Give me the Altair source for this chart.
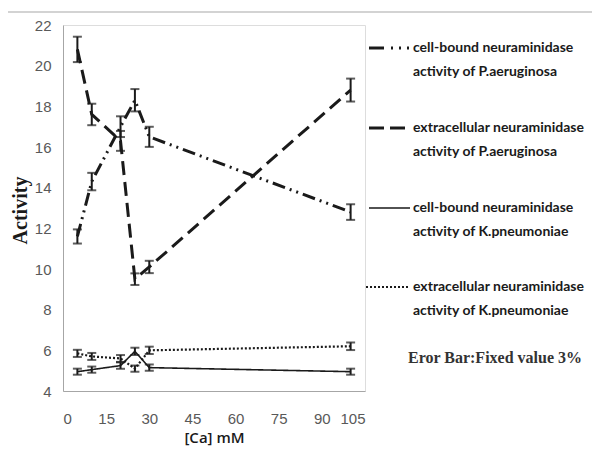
import altair as alt
import pandas as pd

ca = [5, 10, 20, 25, 30, 100]
cb_pa = [11.6, 14.3, 17.0, 18.3, 16.5, 12.8]
ex_pa = [20.8, 17.6, 16.3, 9.5, 10.1, 18.8]
cb_kp = [4.95, 5.05, 5.25, 5.95, 5.15, 4.95]
ex_kp = [5.85, 5.7, 5.6, 5.1, 6.0, 6.2]

series_names = ["cbpa", "expa", "cbkp", "exkp"]
series_vals = [cb_pa, ex_pa, cb_kp, ex_kp]
dashes = [[13, 5, 2, 5, 2, 5], [14, 7], [1, 0], [2, 2]]
widths = [3, 3, 1.6, 2.2]

legend_lines = [
    ["cell-bound neuraminidase", "activity of P.aeruginosa"],
    ["extracellular neuraminidase", "activity of P.aeruginosa"],
    ["cell-bound neuraminidase", "activity of K.pneumoniae"],
    ["extracellular neuraminidase", "activity of K.pneumoniae"],
]
legend_y = [23, 103, 183, 262]
note = "Eror Bar:Fixed value 3%"

rows = []
for name, vals in zip(series_names, series_vals):
    for x, v in zip(ca, vals):
        rows.append({"series": name, "ca": x, "v": v, "lo": v * 0.97, "hi": v * 1.03})
df = pd.DataFrame(rows)

W, H = 302, 366
xs = alt.Scale(domain=[0, 105], nice=False)
ys = alt.Scale(domain=[4, 22], nice=False)
ink = "#1a1a1a"
one = pd.DataFrame({"a": [0]})

layers = []

# outer frame (top and left edges visible in the reference)
layers.append(alt.Chart(one).mark_rule(color="#c4c4c4", strokeWidth=1.5).encode(
    x=alt.value(-58), x2=alt.value(600), y=alt.value(-13)))
layers.append(alt.Chart(one).mark_rule(color="#c4c4c4", strokeWidth=1.5).encode(
    x=alt.value(-58), y=alt.value(-13), y2=alt.value(460)))

for i, name in enumerate(series_names):
    d = df[df.series == name]
    base = alt.Chart(d)
    line = base.mark_line(color=ink, strokeWidth=widths[i], strokeDash=dashes[i]).encode(
        x=alt.X("ca:Q", scale=xs, axis=alt.Axis(
            values=[0, 15, 30, 45, 60, 75, 90, 105], title="[Ca] mM", grid=False,
            ticks=False, domainColor="#a6a6a6", labelFont="Liberation Sans", labelFontSize=15,
            labelColor="#595959", labelPadding=20, titleFont="Open Sans", titleFontSize=15,
            titleFontWeight=600, titleColor=ink, titlePadding=4)),
        y=alt.Y("v:Q", scale=ys, axis=alt.Axis(
            values=[4, 6, 8, 10, 12, 14, 16, 18, 20, 22], title="Activity", grid=False,
            ticks=False, domainColor="#a6a6a6", labelFont="Liberation Sans", labelFontSize=15,
            labelColor="#595959", labelPadding=12, titleFont="Liberation Serif", titleFontSize=20,
            titleFontWeight="bold", titleColor=ink, titlePadding=4, titleY=185)),
    )
    rule = base.mark_rule(color=ink, strokeWidth=2).encode(x="ca:Q", y="lo:Q", y2="hi:Q")
    cap_lo = base.mark_tick(color=ink, orient="horizontal", size=9, thickness=2).encode(x="ca:Q", y="lo:Q")
    cap_hi = base.mark_tick(color=ink, orient="horizontal", size=9, thickness=2).encode(x="ca:Q", y="hi:Q")
    layers += [line, rule, cap_lo, cap_hi]

# legend samples
lx0, lx1, tx = 306, 347, 350
for i in range(4):
    y = legend_y[i]
    if i == 0:
        layers.append(alt.Chart(one).mark_rule(color=ink, strokeWidth=3).encode(
            x=alt.value(lx0), x2=alt.value(lx0 + 15), y=alt.value(y)))
        layers.append(alt.Chart(one).mark_rule(color=ink, strokeWidth=3, strokeDash=[2, 6]).encode(
            x=alt.value(lx0 + 22), x2=alt.value(lx1), y=alt.value(y)))
    elif i == 1:
        layers.append(alt.Chart(one).mark_rule(color=ink, strokeWidth=3, strokeDash=[15, 6]).encode(
            x=alt.value(lx0), x2=alt.value(lx1), y=alt.value(y)))
    else:
        layers.append(alt.Chart(one).mark_rule(color=ink, strokeWidth=widths[i], strokeDash=dashes[i]).encode(
            x=alt.value(lx0 - (3 if i == 3 else 0)), x2=alt.value(lx1), y=alt.value(y)))
    for j, t in enumerate(legend_lines[i]):
        layers.append(alt.Chart(pd.DataFrame({"t": [t]})).mark_text(
            align="left", baseline="middle", font="Lato", fontSize=14, fontWeight="bold", color=ink
        ).encode(x=alt.value(tx), y=alt.value(y + j * 24), text="t:N"))

layers.append(alt.Chart(pd.DataFrame({"t": [note]})).mark_text(
    align="center", baseline="middle", font="Liberation Serif", fontSize=16, fontWeight="bold", color="#333333"
).encode(x=alt.value(432), y=alt.value(333), text="t:N"))

chart = alt.layer(*layers).properties(
    width=W, height=H, autosize=alt.AutoSizeParams(type="none"),
    padding={"left": 55, "top": 17, "right": 227, "bottom": 56}
).configure_view(stroke=None).configure(background="white")

chart.save("out.html", embed_options={"renderer": "svg", "actions": False})
